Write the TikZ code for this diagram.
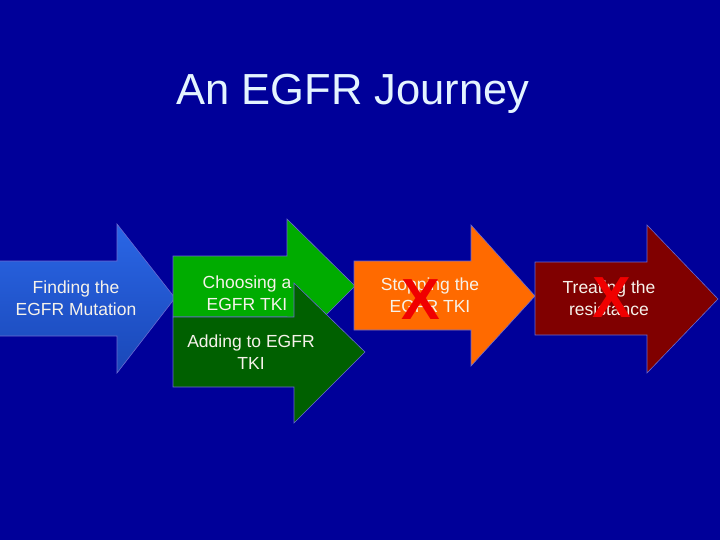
\documentclass[tikz,border=0pt]{standalone}
\usepackage{fontspec}
\setmainfont{Liberation Sans}
\definecolor{bgnavy}{HTML}{000099}
\definecolor{bluetop}{HTML}{2A66E6}
\definecolor{bluebot}{HTML}{1A48B8}
\definecolor{lgreen}{HTML}{00AC00}
\definecolor{dgreen}{HTML}{006000}
\definecolor{orangeA}{HTML}{FF6A00}
\definecolor{dredA}{HTML}{800000}
\definecolor{edgeC}{HTML}{6A6AD0}
\definecolor{titleC}{HTML}{E4F4FF}
\definecolor{txtC}{HTML}{F6F2EA}
\definecolor{xred}{HTML}{F00000}
\tikzset{
  arrowbody/.style={draw=edgeC, line width=0.6pt},
  lbl/.style={text=txtC, font=\fontsize{17.5}{21.5}\selectfont, align=center, inner sep=0pt},
  xmark/.style={text=xred, font=\fontsize{58}{58}\selectfont\bfseries, inner sep=0pt},
}
\begin{document}
\begin{tikzpicture}[x=1pt,y=-1pt]
\fill[bgnavy] (0,0) rectangle (720,540);
\useasboundingbox (0,0) rectangle (720,540);
\node[text=titleC, font=\fontsize{43.5}{50}\selectfont, inner sep=0pt] (title) at (353,94) {An EGFR Journey};
% blue arrow
\shade[top color=bluetop, bottom color=bluebot, draw=edgeC, line width=0.6pt]
  (-2,261) -- (117,261) -- (117,224) -- (175,298) -- (117,373) -- (117,336) -- (-2,336) -- cycle;
% light green arrow
\fill[lgreen, arrowbody] (173,256) -- (287,256) -- (287,219) -- (355,286) -- (287,354) -- (287,317) -- (173,317) -- cycle;
% dark green arrow
\fill[dgreen, arrowbody] (173,317) -- (294,317) -- (294,283) -- (365,352) -- (294,423) -- (294,387) -- (173,387) -- cycle;
% orange arrow
\fill[orangeA, arrowbody] (354,261) -- (471,261) -- (471,225) -- (535,296) -- (471,366) -- (471,330) -- (354,330) -- cycle;
% dark red arrow
\fill[dredA, arrowbody] (535,262) -- (647,262) -- (647,225) -- (718,299) -- (647,373) -- (647,335) -- (535,335) -- cycle;
% labels
\node[lbl] (find) at (76,298) {Finding the\\EGFR Mutation};
\node[lbl] (choose) at (247,293) {Choosing a\\EGFR TKI};
\node[lbl] (add) at (251,352) {Adding to EGFR\\TKI};
\node[lbl] (stop) at (430,295) {Stopping the\\EGFR TKI};
\node[lbl] (treat) at (609,298) {Treating the\\resistance};
\node[xmark] (x1) at (421,300) {X};
\node[xmark] (x2) at (612,298) {X};
\end{tikzpicture}
\end{document}
